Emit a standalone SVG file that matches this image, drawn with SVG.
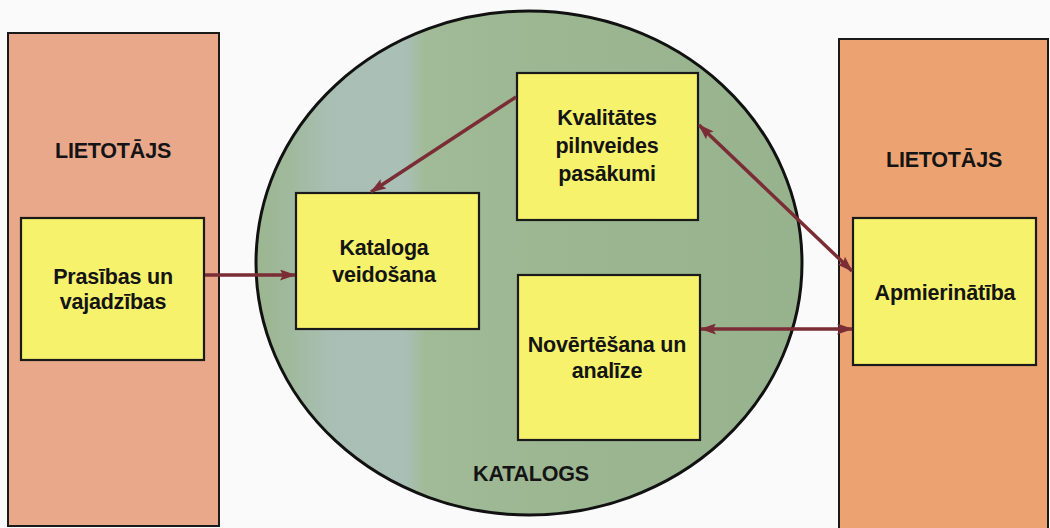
<svg xmlns="http://www.w3.org/2000/svg" width="1050" height="528" viewBox="0 0 1050 528">
<style>
  .user { stroke: #1a1a1a; stroke-width: 2; }
  .box { fill: #f6f26c; stroke: #1a1a1a; stroke-width: 2.2; }
  .t { font-family: "Liberation Sans", Arial, sans-serif; font-weight: bold; font-size: 21.5px; fill: #141414; text-anchor: middle; letter-spacing: -0.2px; }
  .conn { stroke: #7a2d35; stroke-width: 3.5; fill: none; }
</style>
<defs>
  <linearGradient id="cat" x1="256" y1="0" x2="802" y2="0" gradientUnits="userSpaceOnUse">
    <stop offset="0" stop-color="#9bb68f"/>
    <stop offset="0.06" stop-color="#a0b99c"/>
    <stop offset="0.14" stop-color="#a9bfb5"/>
    <stop offset="0.27" stop-color="#aac0b7"/>
    <stop offset="0.31" stop-color="#a1bb98"/>
    <stop offset="0.5" stop-color="#9cb792"/>
    <stop offset="1" stop-color="#97b38d"/>
  </linearGradient>
  <marker id="ah" viewBox="0 0 16 11" refX="15" refY="5.5" markerWidth="16" markerHeight="11" markerUnits="userSpaceOnUse" orient="auto-start-reverse">
    <path d="M0,0 L16,5.5 L0,11 L3,5.5 Z" fill="#7a2d35"/>
  </marker>
</defs>
<rect width="1050" height="528" fill="#fbfafa"/>

<g id="user-left">
  <rect class="user" x="8" y="33" width="211" height="493" fill="#eaa88a"/>
  <text class="t" x="113" y="158">LIETOTĀJS</text>
</g>
<g id="user-right">
  <rect class="user" x="839" y="39" width="209" height="495" fill="#eda371"/>
  <text class="t" x="944" y="167">LIETOTĀJS</text>
</g>
<g id="katalogs">
  <ellipse cx="529" cy="263" rx="273" ry="252" fill="url(#cat)" stroke="#111" stroke-width="3"/>
  <text class="t" x="531" y="481">KATALOGS</text>
</g>

<g id="prasibas">
  <rect class="box" x="21" y="218" width="183" height="142"/>
  <text class="t" x="113" y="284">Prasības un</text>
  <text class="t" x="113" y="309">vajadzības</text>
</g>
<g id="kataloga">
  <rect class="box" x="296" y="193" width="183" height="136"/>
  <text class="t" x="384" y="255">Kataloga</text>
  <text class="t" x="384" y="282">veidošana</text>
</g>
<g id="kvalitates">
  <rect class="box" x="517" y="73" width="181" height="147"/>
  <text class="t" x="607" y="125">Kvalitātes</text>
  <text class="t" x="607" y="153">pilnveides</text>
  <text class="t" x="607" y="181">pasākumi</text>
</g>
<g id="novertesana">
  <rect class="box" x="518" y="275" width="182" height="165"/>
  <text class="t" x="607" y="352">Novērtēšana un</text>
  <text class="t" x="607" y="378">analīze</text>
</g>
<g id="apmierinatiba">
  <rect class="box" x="853" y="218" width="183" height="147"/>
  <text class="t" x="945" y="300">Apmierinātība</text>
</g>

<g id="connectors">
  <line class="conn" x1="205" y1="275" x2="295" y2="275" marker-end="url(#ah)"/>
  <line class="conn" x1="516" y1="97" x2="371" y2="192" marker-end="url(#ah)"/>
  <line class="conn" x1="699" y1="125" x2="852" y2="271" marker-start="url(#ah)" marker-end="url(#ah)"/>
  <line class="conn" x1="701" y1="329" x2="852" y2="329" marker-start="url(#ah)" marker-end="url(#ah)"/>
</g>
</svg>
